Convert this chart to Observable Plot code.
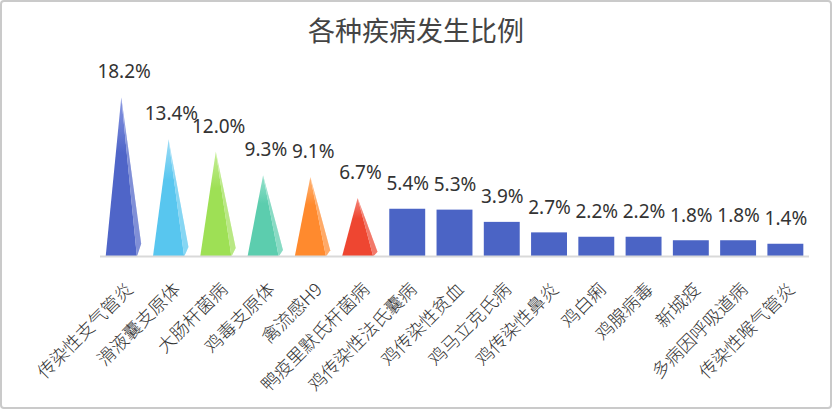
<!DOCTYPE html>
<html>
<head>
<meta charset="utf-8">
<script src="https://cdn.jsdelivr.net/npm/d3@7"></script>
<script src="https://cdn.jsdelivr.net/npm/@observablehq/plot@0.6"></script>
<style>
  html, body { margin: 0; padding: 0; background: #fff; }
  #wrap { position: relative; width: 832px; height: 409px; overflow: hidden; }
  #title { position: absolute; left: 0; right: 0; top: 14px; text-align: center;
           font-family: "Noto Sans CJK SC", sans-serif; font-size: 27px; line-height: 32px; color: #444; }
  #frame { position: absolute; left: 0; top: 0; width: 832px; height: 409px; box-sizing: border-box;
           border: 2px solid #cacaca; border-radius: 4px; pointer-events: none; }
  svg { display: block; }
</style>
</head>
<body>
<div id="wrap">
  <div id="chart"></div>
  <div id="title">各种疾病发生比例</div>
  <div id="frame"></div>
</div>
<script>
const categories = ["传染性支气管炎", "滑液囊支原体", "大肠杆菌病", "鸡毒支原体", "禽流感H9", "鸭疫里默氏杆菌病",
  "鸡传染性法氏囊病", "鸡传染性贫血", "鸡马立克氏病", "鸡传染性鼻炎", "鸡白痢", "鸡腺病毒", "新城疫", "多病因呼吸道病", "传染性喉气管炎"];
const values = [18.2, 13.4, 12.0, 9.3, 9.1, 6.7, 5.4, 5.3, 3.9, 2.7, 2.2, 2.2, 1.8, 1.8, 1.4];
const coneColors = ["#4f65c8", "#58c6ef", "#9ee055", "#5ccdae", "#ff8a2e", "#ee4631"];
const coneTops = ["#8a98e2", "#9ddcf6", "#c6ee98", "#98e2cc", "#ffb67a", "#f5877a"];
const barColor = "#4b64c5";

const rows = categories.map((c, i) => ({i, name: c, value: values[i]}));
const cones = rows.slice(0, coneColors.length);
const bars = rows.slice(coneColors.length);

const coneMarks = [];
cones.forEach((d, k) => {
  const front = [
    {x: d.i - 0.39, y: 0},
    {x: d.i - 0.06, y: d.value},
    {x: d.i + 0.27, y: 0}
  ];
  const side = [
    {x: d.i + 0.27, y: 0},
    {x: d.i - 0.06, y: d.value},
    {x: d.i + 0.36, y: d.value * 0.08}
  ];
  coneMarks.push(Plot.line(front, {x: "x", y: "y", fill: `url(#cg${k})`, stroke: "none", curve: "linear"}));
  coneMarks.push(Plot.line(side, {x: "x", y: "y", fill: `url(#cg${k})`, stroke: "none", curve: "linear"}));
  coneMarks.push(Plot.line(side, {x: "x", y: "y", fill: "#ffffff", fillOpacity: 0.28, stroke: "none", curve: "linear"}));
});

const plot = Plot.plot({
  width: 832,
  height: 409,
  marginLeft: 100,
  marginRight: 23,
  marginTop: 81,
  marginBottom: 153,
  style: {fontFamily: "'Noto Sans CJK SC', sans-serif", background: "transparent"},
  x: {type: "linear", domain: [-0.5, categories.length - 0.5]},
  y: {domain: [0, 20], axis: null},
  marks: [
    Plot.rectY(bars, {x1: d => d.i - 0.38, x2: d => d.i + 0.38, y1: 0, y2: "value", fill: barColor}),
    ...coneMarks,
    Plot.ruleY([0], {stroke: "#d9d9d9", strokeWidth: 2}),
    Plot.text(rows, {x: "i", y: "value", text: d => d.value.toFixed(1) + "%", dy: -25,
      fontSize: 19, fill: "#333", fontFamily: "'Noto Sans', sans-serif"}),
    Plot.axisX({ticks: rows.map(d => d.i), tickFormat: i => categories[i], tickRotate: -45,
      tickSize: 0, tickPadding: 8, fontSize: 18, fontWeight: 300, fill: "#333", dx: 6, dy: 22})
  ]
});

const svg = d3.select(plot);
const defs = svg.insert("defs", ":first-child");
coneColors.forEach((c, k) => {
  const g = defs.append("linearGradient").attr("id", `cg${k}`)
    .attr("x1", 0).attr("y1", 0).attr("x2", 0).attr("y2", 1);
  g.append("stop").attr("offset", "0%").attr("stop-color", coneTops[k]);
  g.append("stop").attr("offset", "35%").attr("stop-color", c);
  g.append("stop").attr("offset", "100%").attr("stop-color", c);
});

document.getElementById("chart").appendChild(plot);
</script>
</body>
</html>
